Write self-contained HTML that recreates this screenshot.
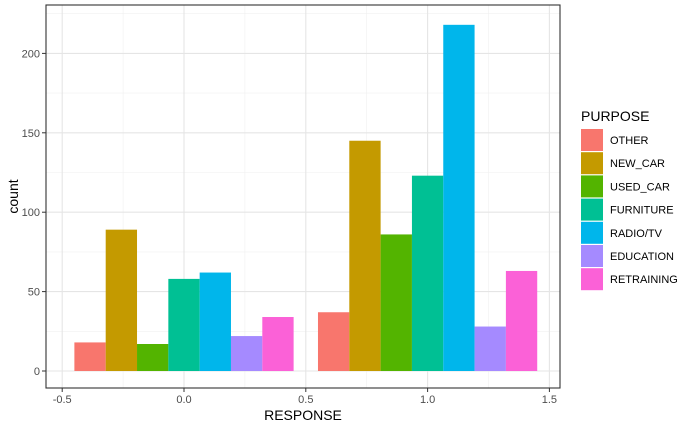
<!DOCTYPE html>
<html><head><meta charset="utf-8"><style>
body{margin:0;background:#fff;}
svg{display:block;font-family:"Liberation Sans",Arial,sans-serif;}
</style></head><body>
<svg id="chart" width="700" height="432"></svg>
<script>
const categories = [0, 1];
const purposes = ["OTHER","NEW_CAR","USED_CAR","FURNITURE","RADIO/TV","EDUCATION","RETRAINING"];
const colors = ["#F8766D","#C49A00","#53B400","#00C094","#00B6EB","#A58AFF","#FB61D7"];
const countsResponse0 = [18, 89, 17, 58, 62, 22, 34];
const countsResponse1 = [37, 145, 86, 123, 218, 28, 63];
const xTicks = [-0.5, 0, 0.5, 1, 1.5];
const xTickLabels = ["-0.5","0.0","0.5","1.0","1.5"];
const yTicks = [0, 50, 100, 150, 200];

const NS = "http://www.w3.org/2000/svg";
const svg = document.getElementById("chart");
const L = 46, R = 560, T = 5, B = 388;
const xScale = v => 184 + (v - 0) * 243.6;
const yScale = v => 371 - v * 1.588;
function mk(tag, attrs, parent) {
  const e = document.createElementNS(NS, tag);
  for (const k in attrs) e.setAttribute(k, attrs[k]);
  (parent || svg).appendChild(e);
  return e;
}
mk("rect", {x: L, y: T, width: R - L, height: B - T, fill: "#fff"});
// minor grid
for (let i = 0; i < xTicks.length - 1; i++) {
  const v = (xTicks[i] + xTicks[i + 1]) / 2, x = xScale(v);
  mk("line", {x1: x, x2: x, y1: T, y2: B, stroke: "#f0f0f0", "stroke-width": 0.6});
}
for (let i = 0; i < yTicks.length; i++) {
  const v = yTicks[i] + 25, y = yScale(v);
  if (y > T) mk("line", {x1: L, x2: R, y1: y, y2: y, stroke: "#f0f0f0", "stroke-width": 0.6});
}
// major grid
xTicks.forEach(v => { const x = xScale(v); mk("line", {x1: x, x2: x, y1: T, y2: B, stroke: "#e5e5e5", "stroke-width": 1.1}); });
yTicks.forEach(v => { const y = yScale(v); mk("line", {x1: L, x2: R, y1: y, y2: y, stroke: "#e5e5e5", "stroke-width": 1.1}); });
// bars
const series = [countsResponse0, countsResponse1];
const bw = 0.9 / purposes.length;
categories.forEach((c, ci) => {
  purposes.forEach((p, pi) => {
    const v = series[ci][pi];
    const x0 = xScale(c - 0.45 + pi * bw), x1 = xScale(c - 0.45 + (pi + 1) * bw);
    const r = mk("rect", {x: x0, y: yScale(v), width: x1 - x0, height: yScale(0) - yScale(v), fill: colors[pi]});
    
    
  });
});
mk("rect", {x: L, y: T, width: R - L, height: B - T, fill: "none", stroke: "#333", "stroke-width": 1.1});
// ticks
xTicks.forEach((v, i) => {
  const x = xScale(v);
  mk("line", {x1: x, x2: x, y1: B, y2: B + 4, stroke: "#333"});
  const t = mk("text", {x: x, y: B + 15, "text-anchor": "middle", "font-size": 11, fill: "#4d4d4d"});
  t.textContent = xTickLabels[i];
});
yTicks.forEach(v => {
  const y = yScale(v);
  mk("line", {x1: L - 4, x2: L, y1: y, y2: y, stroke: "#333"});
  const t = mk("text", {x: L - 6, y: y + 4, "text-anchor": "end", "font-size": 11, fill: "#4d4d4d"});
  t.textContent = v;
});
const xt = mk("text", {x: (L + R) / 2, y: 420, "text-anchor": "middle", "font-size": 14, fill: "#000"});
xt.textContent = "RESPONSE";
 
const yt = mk("text", {x: 0, y: 0, "text-anchor": "middle", "font-size": 14, fill: "#000", transform: "translate(18," + (T + B) / 2 + ") rotate(-90)"});
yt.textContent = "count";
 
// legend
const lt = mk("text", {x: 581, y: 121, "font-size": 14, fill: "#000"});
lt.textContent = "PURPOSE";
 
purposes.forEach((p, i) => {
  const g = mk("g", {});
  
  
  const y = 129 + i * 23.2;
  mk("rect", {x: 581, y: y, width: 22, height: 22, fill: colors[i]}, g);
  const t = mk("text", {x: 610, y: y + 15, "font-size": 11, fill: "#000"}, g);
  t.textContent = p;
});
</script>
</body></html>
